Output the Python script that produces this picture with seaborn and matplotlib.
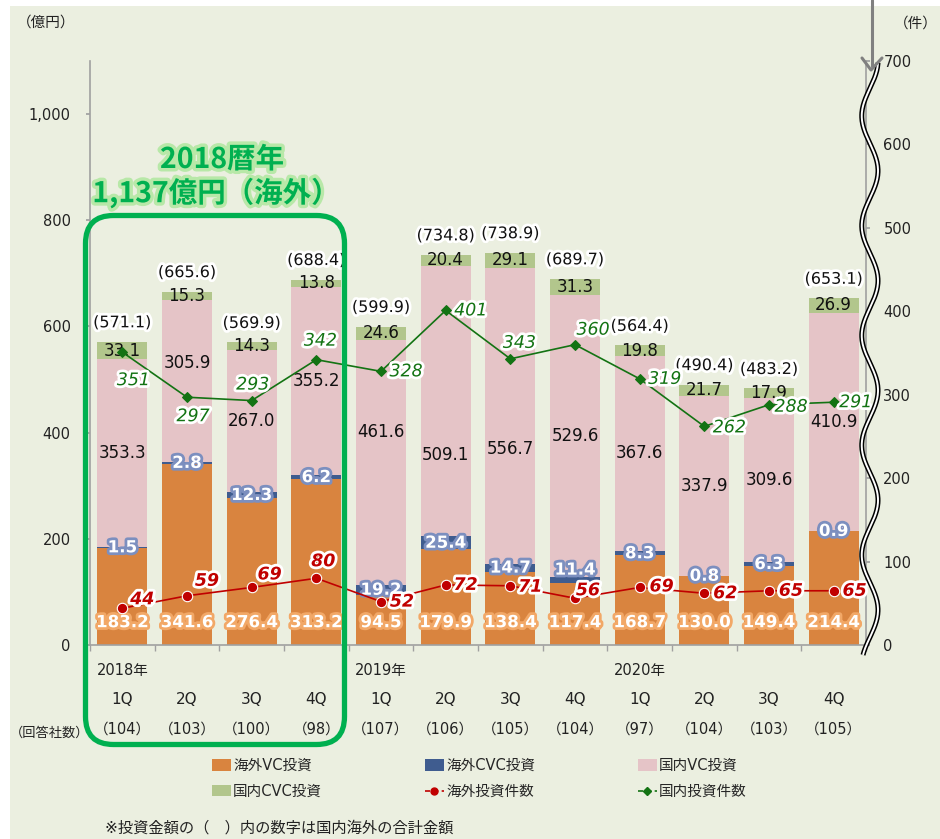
import numpy as np
import pandas as pd
import matplotlib.pyplot as plt
import seaborn as sns
from matplotlib import patheffects as pe
from matplotlib.patches import FancyBboxPatch, Rectangle, Patch
from matplotlib.lines import Line2D

# ---- data (億円 / 件) ----
QUARTERS    = ["1Q", "2Q", "3Q", "4Q"] * 3
YEARS       = {0: "2018年", 4: "2019年", 8: "2020年"}
RESPONDENTS = [104, 103, 100, 98, 107, 106, 105, 104, 97, 104, 103, 105]

OVS_VC  = [183.2, 341.6, 276.4, 313.2, 94.5, 179.9, 138.4, 117.4, 168.7, 130.0, 149.4, 214.4]
OVS_CVC = [1.5, 2.8, 12.3, 6.2, 19.2, 25.4, 14.7, 11.4, 8.3, 0.8, 6.3, 0.9]
DOM_VC  = [353.3, 305.9, 267.0, 355.2, 461.6, 509.1, 556.7, 529.6, 367.6, 337.9, 309.6, 410.9]
DOM_CVC = [33.1, 15.3, 14.3, 13.8, 24.6, 20.4, 29.1, 31.3, 19.8, 21.7, 17.9, 26.9]
TOTALS  = [571.1, 665.6, 569.9, 688.4, 599.9, 734.8, 738.9, 689.7, 564.4, 490.4, 483.2, 653.1]

OVS_DEALS = [44, 59, 69, 80, 52, 72, 71, 56, 69, 62, 65, 65]
DOM_DEALS = [351, 297, 293, 342, 328, 401, 343, 360, 319, 262, 288, 291]

# label placement tweaks (pixels)
DOM_VC_SHIFT = [0, 18, 0, 0, 30, -54, -33, 0, 0, 0, 0, 0]
OVS_CVC_SHIFT = [0, 0, 0, 0, 0, 0, 0, 10, 0, 0, 0, 0]
OVS_LBL_OFF  = [(20, 9), (20, 15), (18, 13), (7, 17), (21, 0), (20, 0),
                (20, -1), (13, 8), (22, 1), (21, 0), (22, 0), (21, 0)]
DOM_LBL_OFF  = [(11, -28), (6, -19), (1, 16), (4, 19), (25, 0), (25, 0),
                (9, 16), (18, 15), (25, 0), (25, -1), (22, -2), (22, 0)]

BG      = "#EBEFE0"
C_OVC   = "#D9843F"
C_OCVC  = "#3F5C8F"
C_DVC   = "#E5C4C7"
C_DCVC  = "#B2C68C"
C_RED   = "#C00000"
C_GRN   = "#137313"
C_BOX   = "#00B050"
GRAY    = "#A0A0A0"

sns.set_theme(style="white")
plt.rcParams["font.family"] = ["DejaVu Sans", "Noto Sans CJK JP"]

fig = plt.figure(figsize=(9.4, 8.39), dpi=100)
fig.patch.set_facecolor("white")
fig.add_artist(Rectangle((10 / 940, 0), 1, 1 - 6 / 839, transform=fig.transFigure,
                         facecolor=BG, edgecolor="none", zorder=-10))

ax = fig.add_axes([90 / 940, 194 / 839, 776 / 940, 584 / 839])
ax.patch.set_visible(False)

idx = np.arange(len(OVS_VC))
bottom = np.zeros(len(idx))
for vals, col in [(OVS_VC, C_OVC), (OVS_CVC, C_OCVC), (DOM_VC, C_DVC), (DOM_CVC, C_DCVC)]:
    sns.barplot(x=idx, y=vals, bottom=bottom, color=col, width=0.77, saturation=1,
                errorbar=None, linewidth=0, ax=ax)
    bottom = bottom + np.array(vals)

ax.set_xlim(-0.5, 11.5)
ax.set_ylim(0, 1100)
ax.set_xlabel("")
ax.set_ylabel("")
ax.set_yticks([0, 200, 400, 600, 800, 1000])
ax.set_yticklabels([f"{v:,}" for v in [0, 200, 400, 600, 800, 1000]])
ax.set_xticks(idx)
ax.set_xticklabels([])
ax.set_xticks(np.arange(-0.5, 12, 1), minor=True)
ax.tick_params(axis="y", left=True, direction="out", length=3, color=GRAY,
               labelsize=10.5, labelcolor="#222222", pad=11)
ax.tick_params(axis="x", which="major", bottom=False, length=0)
ax.tick_params(axis="x", which="minor", bottom=True, direction="out", length=4.5,
               color=GRAY, width=1)
for s in ["top", "right"]:
    ax.spines[s].set_visible(False)
for s in ["left", "bottom"]:
    ax.spines[s].set_color(GRAY)
    ax.spines[s].set_linewidth(1.2)

glow_w = [pe.withStroke(linewidth=4, foreground="white")]
glow_o = [pe.withStroke(linewidth=4, foreground="#F2A867")]
glow_b = [pe.withStroke(linewidth=4, foreground="#7C8FBF")]

for i in idx:
    b1 = OVS_VC[i]
    b2 = b1 + OVS_CVC[i]
    b3 = b2 + DOM_VC[i]
    b4 = b3 + DOM_CVC[i]
    ax.text(i, 43, f"{OVS_VC[i]:.1f}", ha="center", va="center", fontsize=12,
            fontweight="bold", color="white", path_effects=glow_o, zorder=5)
    ax.annotate(f"{OVS_CVC[i]:.1f}", xy=(i, (b1 + b2) / 2), xytext=(0, OVS_CVC_SHIFT[i]),
                textcoords="offset pixels", ha="center", va="center",
                fontsize=12, fontweight="bold", color="white", path_effects=glow_b, zorder=5)
    ax.annotate(f"{DOM_VC[i]:.1f}", xy=(i, (b2 + b3) / 2), xytext=(0, DOM_VC_SHIFT[i]),
                textcoords="offset pixels", ha="center", va="center", fontsize=12,
                color="#111111", zorder=5)
    ax.text(i, (b3 + b4) / 2, f"{DOM_CVC[i]:.1f}", ha="center", va="center",
            fontsize=12, color="#111111", zorder=5)
    ax.annotate(f"({TOTALS[i]:.1f})", xy=(i, TOTALS[i]), xytext=(0, 19),
                textcoords="offset pixels", ha="center", va="center", fontsize=11.5,
                color="#111111", path_effects=glow_w, zorder=5)

# bottom category text
xtr = ax.get_xaxis_transform()
for i in idx:
    if i in YEARS:
        ax.annotate(YEARS[i], xy=(i, 0), xycoords=xtr, xytext=(0, -25),
                    textcoords="offset pixels", ha="center", va="center",
                    fontsize=10.5, color="#222222", annotation_clip=False)
    ax.annotate(QUARTERS[i], xy=(i, 0), xycoords=xtr, xytext=(0, -55),
                textcoords="offset pixels", ha="center", va="center",
                fontsize=11, color="#222222", annotation_clip=False)
    ax.annotate(f"（{RESPONDENTS[i]}）", xy=(i, 0), xycoords=xtr, xytext=(0, -84),
                textcoords="offset pixels", ha="center", va="center",
                fontsize=10.5, color="#222222", annotation_clip=False)

# deal counts on secondary axis
ax2 = ax.twinx()
sns.lineplot(x=idx, y=OVS_DEALS, ax=ax2, color=C_RED, linewidth=1.2, marker="o",
             markersize=7.5, markeredgecolor="white", markeredgewidth=0.8)
sns.lineplot(x=idx, y=DOM_DEALS, ax=ax2, color=C_GRN, linewidth=1.2, marker="D",
             markersize=5, markeredgecolor=C_GRN)
ax2.set_xlim(-0.5, 11.5)
ax2.set_ylim(0, 700)
ax2.set_ylabel("")
ax2.set_yticks(range(0, 701, 100))
ax2.tick_params(axis="y", right=True, direction="out", length=3, color=GRAY,
                labelsize=10.5, labelcolor="#222222", pad=9.5)
for s in ["top", "left", "bottom"]:
    ax2.spines[s].set_visible(False)
ax2.spines["right"].set_color(GRAY)
ax2.spines["right"].set_linewidth(1.2)

for i in idx:
    ax2.annotate(str(OVS_DEALS[i]), xy=(i, OVS_DEALS[i]), xytext=OVS_LBL_OFF[i],
                 textcoords="offset pixels", ha="center", va="center", fontsize=12.5,
                 fontweight="bold", fontstyle="italic", color=C_RED,
                 path_effects=glow_w, zorder=6)
    ax2.annotate(str(DOM_DEALS[i]), xy=(i, DOM_DEALS[i]), xytext=DOM_LBL_OFF[i],
                 textcoords="offset pixels", ha="center", va="center", fontsize=12.5,
                 fontstyle="italic", color=C_GRN, path_effects=glow_w, zorder=6)

# wavy axis break on the right
t = np.linspace(-0.017, 0.997, 500)
wx = 1.005 + 0.0105 * np.cos(2 * np.pi * (1 - t) / 0.188)
ax2.plot(wx, t, transform=ax2.transAxes, color="black", lw=3.6, clip_on=False,
         solid_capstyle="butt", zorder=7)
ax2.plot(wx, t, transform=ax2.transAxes, color="white", lw=1.4, clip_on=False,
         solid_capstyle="butt", zorder=8)
fig.add_artist(plt.Line2D([872 / 940, 872 / 940], [1.0, 1 - 66 / 839],
                          transform=fig.transFigure, color="#808080", lw=2.2))
fig.add_artist(plt.Line2D([862 / 940, 871 / 940, 882 / 940],
                          [1 - 58 / 839, 1 - 70 / 839, 1 - 58 / 839],
                          transform=fig.transFigure, color="#808080", lw=2.2))

# unit labels
fig.text(46 / 940, 1 - 22 / 839, "（億円）", ha="center", va="center", fontsize=10.5,
         color="#222222")
fig.text(916 / 940, 1 - 23 / 839, "（件）", ha="center", va="center", fontsize=10.5,
         color="#222222")
fig.text(50 / 940, 1 - 733 / 839, "（回答社数）", ha="center", va="center", fontsize=9.5,
         color="#222222")

# 2018 highlight box
fig.add_artist(FancyBboxPatch((0.855, 0.945), 3.445 - 0.855, 6.235 - 0.945,
                              boxstyle="round,pad=0,rounding_size=0.28",
                              transform=fig.dpi_scale_trans, facecolor="none",
                              edgecolor=C_BOX, linewidth=3.8, zorder=9))
glow_g = [pe.withStroke(linewidth=5, foreground="#B8E8A8")]
fig.text(222 / 940, 1 - 160 / 839, "2018暦年", ha="center", va="center", fontsize=20.5,
         fontweight="bold", color=C_BOX, path_effects=glow_g,
         family=["Noto Sans CJK JP"])
fig.text(216 / 940, 1 - 193 / 839, "1,137億円（海外）", ha="center", va="center",
         fontsize=20.5, fontweight="bold", color=C_BOX, path_effects=glow_g,
         family=["Noto Sans CJK JP"])

# legend in three columns
def patch(c):
    return Patch(facecolor=c, edgecolor="none")

cols = [
    ([patch(C_OVC), patch(C_DCVC)], ["海外VC投資", "国内CVC投資"], 212),
    ([patch(C_OCVC), Line2D([0], [0], color=C_RED, lw=1.2, ls=(0, (3, 2)), marker="o", ms=5)],
     ["海外CVC投資", "海外投資件数"], 425),
    ([patch(C_DVC), Line2D([0], [0], color=C_GRN, lw=1.2, ls=(0, (3, 2)), marker="D", ms=4)],
     ["国内VC投資", "国内投資件数"], 638),
]
for handles, labels, xp in cols:
    fig.legend(handles, labels, loc="upper left", bbox_to_anchor=(xp / 940, 1 - 758 / 839),
               frameon=False, fontsize=10.5, borderpad=0, borderaxespad=0,
               handlelength=1.3, handleheight=0.8, handletextpad=0.15,
               labelspacing=0.75)

fig.text(105 / 940, 1 - 828 / 839, "※投資金額の（　）内の数字は国内海外の合計金額",
         ha="left", va="center", fontsize=11, color="#222222")

fig.savefig("out.png", dpi=100, facecolor=fig.get_facecolor())
